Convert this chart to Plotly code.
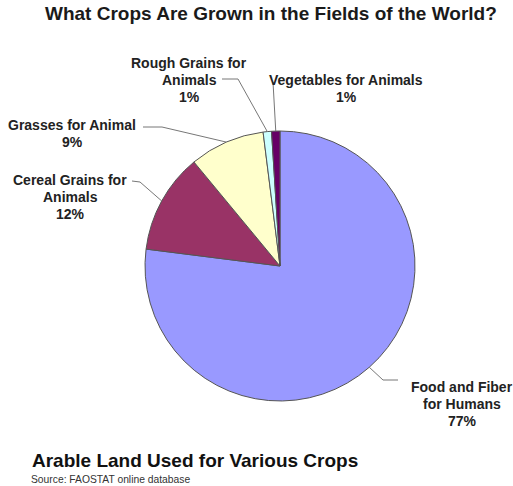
import math
import plotly.graph_objects as go

W, H = 513, 486

labels = ["Food and Fiber for Humans", "Cereal Grains for Animals", "Grasses for Animal",
          "Rough Grains for Animals", "Vegetables for Animals"]
values = [77, 12, 9, 1, 1]
colors = ["#9999FF", "#993366", "#FFFFCC", "#CCFFFF", "#660066"]
label_lines = [["Food and Fiber", "for Humans", "77%"],
               ["Cereal Grains for", "Animals", "12%"],
               ["Grasses for Animal", "9%"],
               ["Rough Grains for", "Animals", "1%"],
               ["Vegetables for Animals", "1%"]]
# label centre x and first-line y (pixels), and elbow points of leader lines
label_pos = [(462, 387), (70, 180), (72, 125), (189, 63), (346, 80)]
elbows = [[(383, 380), (398, 380)],
          [(140, 182), (132, 181)],
          [(162, 127), (143, 127)],
          [(238, 79), (222, 79)],
          [(273, 82)]]
LINE_H = 17

CX, CY, R = 280, 266, 135

def px(x):
    return x / W

def py(y):
    return 1 - y / H

fig = go.Figure(go.Pie(
    labels=labels, values=values, sort=False, direction="clockwise", rotation=0,
    marker=dict(colors=colors, line=dict(color="#555555", width=1)),
    textinfo="none", hoverinfo="label+percent",
    domain=dict(x=[px(CX - R), px(CX + R)], y=[py(CY + R), py(CY - R)]),
    showlegend=False,
))

total = sum(values)
cum = 0
shapes = []
annotations = []
for i, v in enumerate(values):
    mid = (cum + v / 2) / total
    cum += v
    th = 2 * math.pi * mid
    ex, ey = CX + R * math.sin(th), CY - R * math.cos(th)
    pts = [(ex, ey)] + elbows[i]
    path = "M " + " L ".join(f"{px(x)},{py(y)}" for x, y in pts)
    shapes.append(dict(type="path", xref="paper", yref="paper", path=path,
                       line=dict(color="#777777", width=1)))
    lx, ly = label_pos[i]
    for j, line in enumerate(label_lines[i]):
        annotations.append(dict(text="<b>" + line + "</b>", x=px(lx), y=py(ly + j * LINE_H),
                                xref="paper", yref="paper", showarrow=False,
                                xanchor="center", yanchor="middle",
                                font=dict(family="Liberation Sans", size=14, color="#222222")))

annotations.append(dict(text="<b>What Crops Are Grown in the Fields of the World?</b>",
                        x=px(271), y=py(14), xref="paper", yref="paper", showarrow=False,
                        xanchor="center", yanchor="middle",
                        font=dict(family="Liberation Sans", size=19, color="#1a1a1a")))
annotations.append(dict(text="<b>Arable Land Used for Various Crops</b>",
                        x=px(30), y=py(460), xref="paper", yref="paper", showarrow=False,
                        xanchor="left", yanchor="middle",
                        font=dict(family="Liberation Sans", size=19, color="#111111")))
annotations.append(dict(text="Source: FAOSTAT online database",
                        x=px(29), y=py(479), xref="paper", yref="paper", showarrow=False,
                        xanchor="left", yanchor="middle",
                        font=dict(family="Liberation Sans", size=10.3, color="#333333")))

fig.update_layout(width=W, height=H, margin=dict(l=0, r=0, t=0, b=0),
                  paper_bgcolor="white", plot_bgcolor="white",
                  shapes=shapes, annotations=annotations)
fig.write_html("out.html", config={"displayModeBar": False},
               post_script="document.body.style.margin='0px';")
